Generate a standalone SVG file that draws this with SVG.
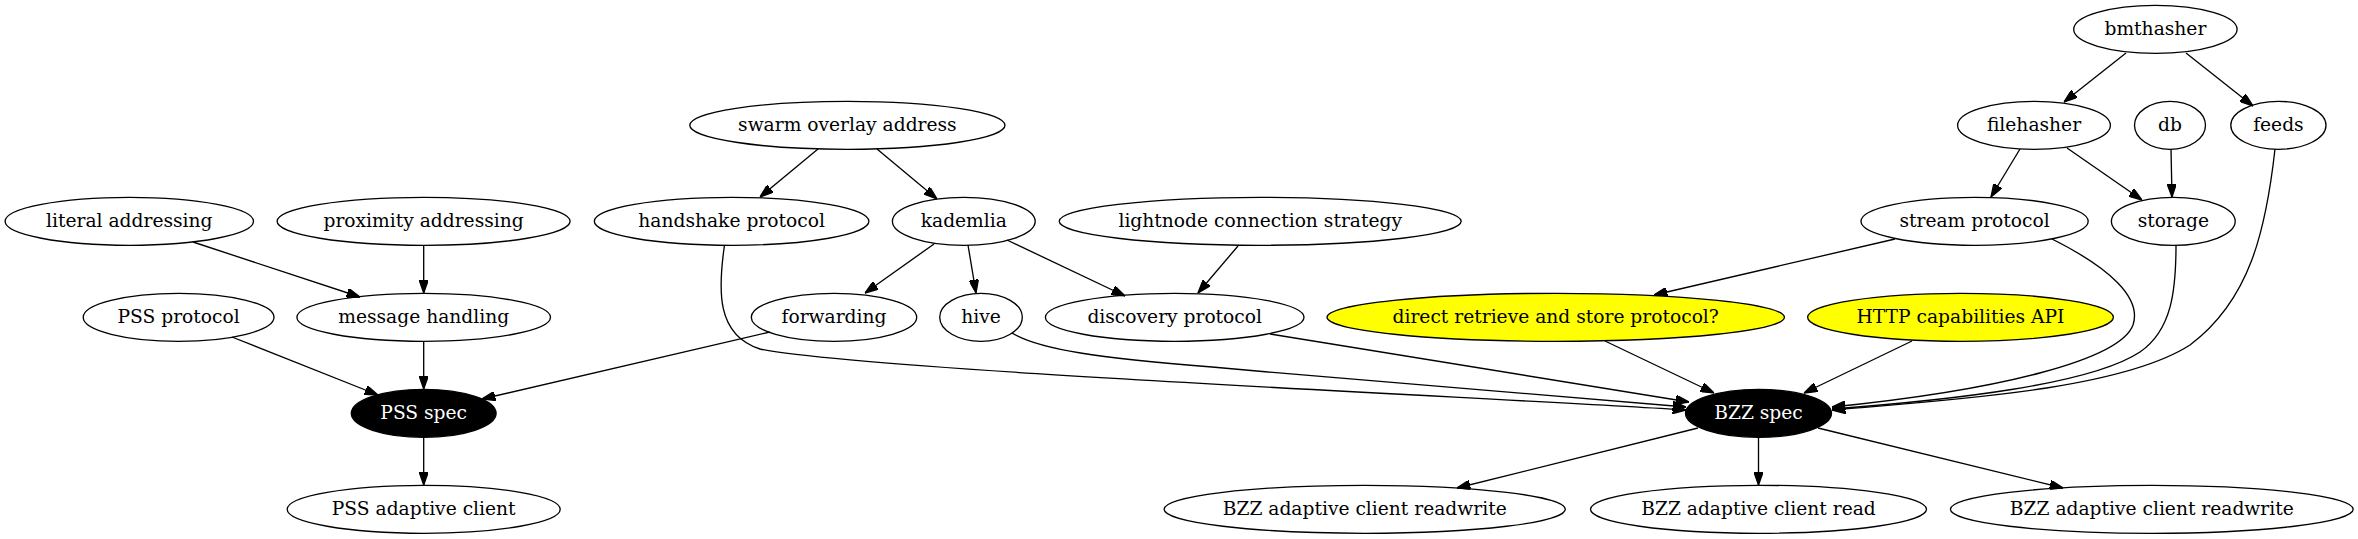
<svg xmlns="http://www.w3.org/2000/svg" width="2358" height="539" viewBox="0 0 2358 539">
<style>
.n ellipse{fill:none;stroke:#000;stroke-width:1.33}
.n text{font-family:"DejaVu Serif",serif;font-size:18.67px;text-anchor:middle;fill:#000}
.n.dark ellipse{fill:#000}
.n.dark text{fill:#fff}
.n.yel ellipse{fill:#ffff00}
#edges path{fill:none;stroke:#000;stroke-width:1.33;marker-end:url(#arr)}
</style>
<defs>
<marker id="arr" viewBox="0 0 10 7" refX="10" refY="3.5" markerWidth="13.33" markerHeight="9.33" markerUnits="userSpaceOnUse" orient="auto"><path d="M0,0 L10,3.5 L0,7 z" fill="#000" stroke="#000" stroke-width="1"/></marker>
</defs>
<rect width="2358" height="539" fill="#fff"/>
<g id="edges">
<path d="M818,149 L760,197"/>
<path d="M877,149 L937,199"/>
<path d="M193,242 L360,297"/>
<path d="M423.7,245 L423.7,293"/>
<path d="M934,244 L865,293"/>
<path d="M968,245 L976,293"/>
<path d="M1007,240 L1125,296"/>
<path d="M1238,246 L1198,293"/>
<path d="M232,337 L378,395"/>
<path d="M423.7,341 L423.7,389"/>
<path d="M770,332 L482,399"/>
<path d="M423.7,437 L423.7,485"/>
<path d="M724.5,245 C718,290 716,335 760,349 C860,370 1500,398 1686,410"/>
<path d="M1012,333 C1040,350 1100,358 1212,367 C1400,384 1600,400 1686,407"/>
<path d="M1270,334 L1689,402"/>
<path d="M1605,341 L1714,393"/>
<path d="M1912,341 L1804,393"/>
<path d="M1895,239 L1654,295"/>
<path d="M2052,239 C2110,268 2142,298 2133,325 C2120,360 2000,390 1832,407"/>
<path d="M2176,245 C2176,290 2172,330 2140,352 C2090,385 1950,400 1832,409"/>
<path d="M2275,149 C2266,230 2250,300 2190,345 C2120,390 1950,400 1832,410"/>
<path d="M2126,53 L2064,102"/>
<path d="M2186,53 L2253,106"/>
<path d="M2020,149 L1991,197"/>
<path d="M2067,148 L2142,200"/>
<path d="M2171,149 L2172,197"/>
<path d="M1698,428 L1457,488"/>
<path d="M1758.5,437 L1758.5,485"/>
<path d="M1818,428 L2063,488"/>
</g>
<g id="bmthasher" class="n"><ellipse cx="2155.4" cy="29.3" rx="81.7" ry="24"/><text x="2155.4" y="34.9">bmthasher</text></g>
<g id="swarm_overlay_address" class="n"><ellipse cx="847.4" cy="125.3" rx="157.6" ry="24"/><text x="847.4" y="130.9">swarm overlay address</text></g>
<g id="filehasher" class="n"><ellipse cx="2034" cy="125.3" rx="76.4" ry="24"/><text x="2034" y="130.9">filehasher</text></g>
<g id="db" class="n"><ellipse cx="2170" cy="125.3" rx="35.5" ry="24"/><text x="2170" y="130.9">db</text></g>
<g id="feeds" class="n"><ellipse cx="2278.4" cy="125.3" rx="47.6" ry="24"/><text x="2278.4" y="130.9">feeds</text></g>
<g id="literal_addressing" class="n"><ellipse cx="129.3" cy="221.3" rx="124.2" ry="24"/><text x="129.3" y="226.9">literal addressing</text></g>
<g id="proximity_addressing" class="n"><ellipse cx="423.6" cy="221.3" rx="146.5" ry="24"/><text x="423.6" y="226.9">proximity addressing</text></g>
<g id="handshake_protocol" class="n"><ellipse cx="731.6" cy="221.3" rx="137.3" ry="24"/><text x="731.6" y="226.9">handshake protocol</text></g>
<g id="kademlia" class="n"><ellipse cx="963.8" cy="221.3" rx="71.4" ry="24"/><text x="963.8" y="226.9">kademlia</text></g>
<g id="lightnode_connection_strategy" class="n"><ellipse cx="1260.2" cy="221.3" rx="201" ry="24"/><text x="1260.2" y="226.9">lightnode connection strategy</text></g>
<g id="stream_protocol" class="n"><ellipse cx="1974.6" cy="221.3" rx="113.6" ry="24"/><text x="1974.6" y="226.9">stream protocol</text></g>
<g id="storage" class="n"><ellipse cx="2173.3" cy="221.3" rx="61.9" ry="24"/><text x="2173.3" y="226.9">storage</text></g>
<g id="pss_protocol" class="n"><ellipse cx="178.6" cy="317.3" rx="95.4" ry="24"/><text x="178.6" y="322.9">PSS protocol</text></g>
<g id="message_handling" class="n"><ellipse cx="423.7" cy="317.3" rx="126.8" ry="24"/><text x="423.7" y="322.9">message handling</text></g>
<g id="forwarding" class="n"><ellipse cx="834" cy="317.3" rx="82.7" ry="24"/><text x="834" y="322.9">forwarding</text></g>
<g id="hive" class="n"><ellipse cx="981" cy="317.3" rx="41.3" ry="24"/><text x="981" y="322.9">hive</text></g>
<g id="discovery_protocol" class="n"><ellipse cx="1174.7" cy="317.3" rx="129.3" ry="24"/><text x="1174.7" y="322.9">discovery protocol</text></g>
<g id="direct_retrieve" class="n yel"><ellipse cx="1555.7" cy="317.3" rx="228.7" ry="24"/><text x="1555.7" y="322.9">direct retrieve and store protocol?</text></g>
<g id="http_capabilities_api" class="n yel"><ellipse cx="1960.5" cy="317.3" rx="152.9" ry="24"/><text x="1960.5" y="322.9">HTTP capabilities API</text></g>
<g id="pss_spec" class="n dark"><ellipse cx="423.7" cy="413.3" rx="72.4" ry="24"/><text x="423.7" y="418.9">PSS spec</text></g>
<g id="bzz_spec" class="n dark"><ellipse cx="1758.5" cy="413.3" rx="73" ry="24"/><text x="1758.5" y="418.9">BZZ spec</text></g>
<g id="pss_adaptive_client" class="n"><ellipse cx="423.7" cy="509.3" rx="136.5" ry="24"/><text x="423.7" y="514.9">PSS adaptive client</text></g>
<g id="bzz_adaptive_client_readwrite_1" class="n"><ellipse cx="1364.7" cy="509.3" rx="200.6" ry="24"/><text x="1364.7" y="514.9">BZZ adaptive client readwrite</text></g>
<g id="bzz_adaptive_client_read" class="n"><ellipse cx="1758.5" cy="509.3" rx="168" ry="24"/><text x="1758.5" y="514.9">BZZ adaptive client read</text></g>
<g id="bzz_adaptive_client_readwrite_2" class="n"><ellipse cx="2151.8" cy="509.3" rx="201.4" ry="24"/><text x="2151.8" y="514.9">BZZ adaptive client readwrite</text></g>
</svg>
